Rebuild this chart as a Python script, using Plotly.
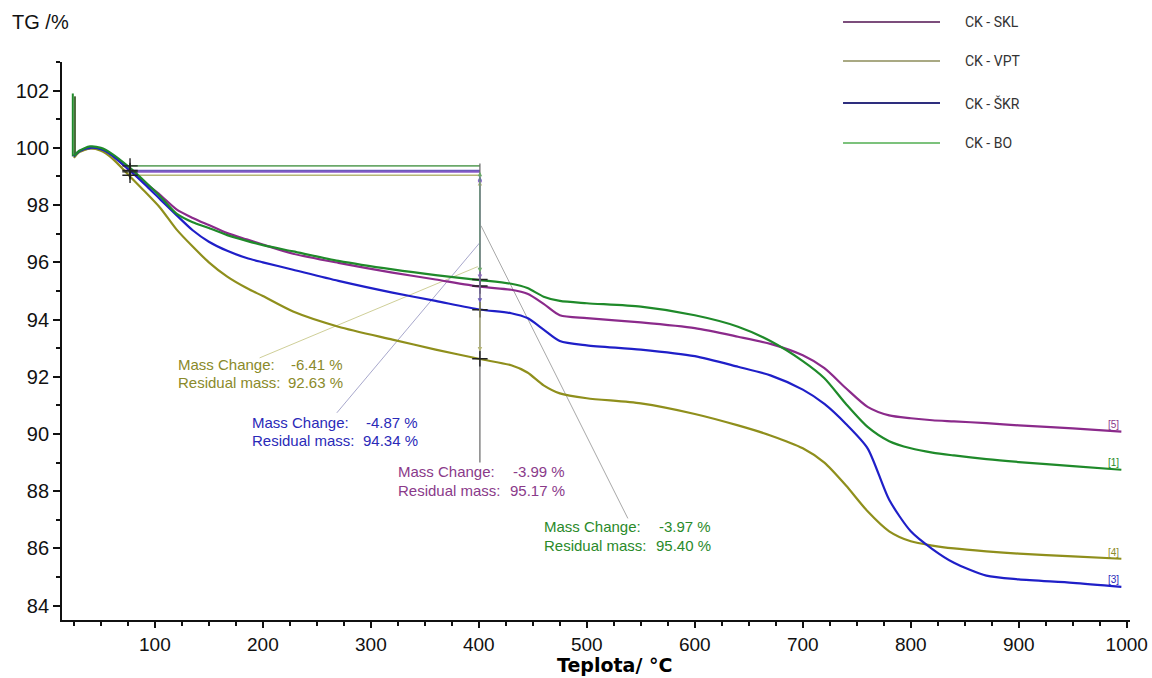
import plotly.graph_objects as go

# ---------------- data ----------------
temperature = [25, 30, 40, 50, 60, 77, 90, 105, 120, 135, 150, 167, 185, 200, 228, 270, 320, 360, 401,
               430, 445, 460, 475, 500, 550, 600, 640, 670, 700, 720, 740, 760, 780, 800, 820,
               840, 870, 900, 950, 995]

tg_skl = [99.7, 99.88, 99.98, 99.95, 99.75, 99.2, 98.8, 98.35, 97.85, 97.55, 97.3, 97.02, 96.8, 96.62, 96.3,
          95.98, 95.64, 95.4, 95.15, 95.04, 94.9, 94.55, 94.15, 94.05, 93.9, 93.7, 93.4, 93.15, 92.75,
          92.3, 91.6, 90.95, 90.65, 90.55, 90.48, 90.44, 90.38, 90.3, 90.2, 90.08]

tg_vpt = [99.65, 99.85, 99.98, 99.9, 99.65, 99.0, 98.5, 97.9, 97.15, 96.55, 96.0, 95.5, 95.1, 94.82, 94.28,
          93.75, 93.3, 92.95, 92.62, 92.4, 92.15, 91.7, 91.42, 91.25, 91.07, 90.7, 90.3, 89.95, 89.5,
          89.0, 88.2, 87.3, 86.6, 86.25, 86.1, 86.0, 85.9, 85.82, 85.72, 85.64]

tg_skr = [99.7, 99.88, 100.0, 99.95, 99.75, 99.2, 98.75, 98.2, 97.65, 97.12, 96.72, 96.4, 96.15, 96.0, 95.74,
          95.35, 94.94, 94.65, 94.35, 94.22, 94.05, 93.65, 93.25, 93.1, 92.95, 92.72, 92.35, 92.05, 91.55,
          91.05, 90.35, 89.5, 87.7, 86.6, 85.98, 85.5, 85.05, 84.92, 84.8, 84.66]

tg_bo = [99.72, 99.9, 100.05, 100.0, 99.8, 99.3, 98.85, 98.3, 97.7, 97.4, 97.2, 96.95, 96.75, 96.6, 96.38,
         96.05, 95.75, 95.55, 95.38, 95.25, 95.1, 94.8, 94.65, 94.57, 94.45, 94.15, 93.75, 93.25, 92.55,
         91.95, 91.05, 90.25, 89.75, 89.5, 89.35, 89.25, 89.12, 89.02, 88.88, 88.75]

series_names = ["CK - SKL", "CK - VPT", "CK - ŠKR", "CK - BO"]
series_values = [tg_skl, tg_vpt, tg_skr, tg_bo]
end_tags = ["[5]", "[4]", "[3]", "[1]"]

# initial balance spikes
spike_temperature = [24, 26]
spike_top = [101.9, 101.8]
spike_base = [99.7, 99.7]

# mass change evaluation (from ~77 °C to 400 °C)
eval_start_t = 77
eval_end_t = 401
mass_change = [-3.99, -6.41, -4.87, -3.97]
residual_mass = [95.17, 92.63, 94.34, 95.40]

x_ticks = [100, 200, 300, 400, 500, 600, 700, 800, 900, 1000]
y_ticks = [84, 86, 88, 90, 92, 94, 96, 98, 100, 102]

# ---------------- styles ----------------
curve_colors = ["#8b2a8b", "#8f8f1c", "#1f1fc8", "#1f8a2a"]
text_colors = ["#8a3a8a", "#8a8a2a", "#2a2ab8", "#2a8a2a"]
level_colors = ["#8a5ac8", "#b5b575", "#6a5ab8", "#6aa86a"]
legend_colors = ["#7c4e7c", "#a9a983", "#2e2e7e", "#7cc27c"]
FONT = "Liberation Sans, Arial, sans-serif"

fig = go.Figure()

# horizontal reference levels of the evaluation
for i in range(4):
    start_level = residual_mass[i] - mass_change[i]
    fig.add_trace(go.Scatter(x=[eval_start_t, eval_end_t], y=[start_level, start_level],
                             mode="lines", line=dict(color=level_colors[i], width=1.6),
                             showlegend=False, hoverinfo="skip"))

# vertical evaluation line
fig.add_trace(go.Scatter(x=[eval_end_t, eval_end_t], y=[99.45, 89.0], mode="lines",
                         line=dict(color="#666666", width=1.2), showlegend=False, hoverinfo="skip"))

# leader lines from evaluation line to the labels
leaders = [
    ([197, 399], [92.66, 95.85], "#cfcf98"),   # VPT
    ([268.5, 401], [90.74, 96.69], "#a8a8cc"),  # SKR
    ([402, 538], [97.28, 87.05], "#a8a8a8"),    # BO
]
for lx, ly, lc in leaders:
    fig.add_trace(go.Scatter(x=lx, y=ly, mode="lines", line=dict(color=lc, width=1),
                             showlegend=False, hoverinfo="skip"))

# spikes
for t, top, base, c in zip(spike_temperature, spike_top, spike_base, [curve_colors[3], "#4a6a3a"]):
    fig.add_trace(go.Scatter(x=[t, t], y=[top, base], mode="lines", line=dict(color=c, width=2),
                             showlegend=False, hoverinfo="skip"))

# curves
for i in range(4):
    fig.add_trace(go.Scatter(x=temperature, y=series_values[i], mode="lines", name=series_names[i],
                             line=dict(color=curve_colors[i], width=2.2, shape="spline", smoothing=0.7),
                             showlegend=False))

# cross markers
fig.add_trace(go.Scatter(
    x=[eval_start_t] * 4 + [eval_end_t] * 4,
    y=[r - m for r, m in zip(residual_mass, mass_change)] + residual_mass,
    mode="markers",
    marker=dict(symbol="cross-thin", size=11, line=dict(width=1.4, color="#222222")),
    showlegend=False, hoverinfo="skip"))

annotations = []

# double arrows on the evaluation line
for i in range(4):
    start_level = residual_mass[i] - mass_change[i]
    annotations.append(dict(x=eval_end_t, y=residual_mass[i] + 0.25, ax=eval_end_t, ay=start_level - 0.15,
                            xref="x", yref="y", axref="x", ayref="y", text="", showarrow=True,
                            arrowhead=2, arrowside="end+start", arrowsize=0.9, arrowwidth=1,
                            arrowcolor=level_colors[i]))

# mass change labels: (left x, right x, y line1, y line2) in data units
label_pos = [
    (323.1, 481.5, 88.68, 88.01),   # SKL
    (119.4, 275.9, 92.42, 91.79),   # VPT
    (188.0, 345.4, 90.39, 89.76),   # SKR
    (458.3, 616.7, 86.76, 86.09),   # BO
]
for i in range(4):
    xl, xr, y1, y2 = label_pos[i]
    for txt, xx, anchor, yy in [("Mass Change:", xl, "left", y1),
                                ("%.2f %%" % mass_change[i], xr, "right", y1),
                                ("Residual mass:", xl, "left", y2),
                                ("%.2f %%" % residual_mass[i], xr, "right", y2)]:
        annotations.append(dict(x=xx, y=yy, xref="x", yref="y", text=txt, showarrow=False,
                                xanchor=anchor, yanchor="middle",
                                font=dict(family=FONT, size=15, color=text_colors[i])))

# end tags
end_tag_y = [90.32, 85.85, 84.9, 89.0]
for i in range(4):
    annotations.append(dict(x=988, y=end_tag_y[i], xref="x", yref="y", text=end_tags[i],
                            showarrow=False, xanchor="center", yanchor="middle",
                            font=dict(family=FONT, size=10, color=text_colors[i])))

# axis titles
annotations.append(dict(x=-0.0487, y=1.0717, xref="paper", yref="paper", text="TG /%",
                        showarrow=False, xanchor="left", yanchor="middle",
                        font=dict(family=FONT, size=20, color="#111111")))
annotations.append(dict(x=0.517, y=-0.081, xref="paper", yref="paper", text="<b>Teplota/ °C</b>",
                        showarrow=False, xanchor="center", yanchor="middle",
                        font=dict(family="DejaVu Sans, sans-serif", size=19, color="#000000")))

# custom legend
legend_y = [1.0717, 1.0018, 0.9265, 0.8548]
shapes = []
for i in range(4):
    shapes.append(dict(type="line", xref="paper", yref="paper", x0=0.7313, x1=0.8221,
                       y0=legend_y[i], y1=legend_y[i], line=dict(color=legend_colors[i], width=2.2)))
    annotations.append(dict(x=0.8436, y=legend_y[i], xref="paper", yref="paper", text=series_names[i],
                            showarrow=False, xanchor="left", yanchor="middle",
                            font=dict(family="Roboto, sans-serif", size=14, color="#333333")))

fig.update_layout(
    width=1152, height=678,
    margin=dict(l=62, r=22, t=62, b=58, autoexpand=False),
    paper_bgcolor="white", plot_bgcolor="white",
    annotations=annotations, shapes=shapes,
    showlegend=False,
    xaxis=dict(range=[14, 1003], tickvals=x_ticks, ticks="outside", ticklen=6, tickwidth=1.5,
               tickcolor="#111111", showline=True, linecolor="#111111", linewidth=1.8,
               showgrid=False, zeroline=False, automargin=False,
               tickfont=dict(family=FONT, size=19, color="#111111"),
               minor=dict(dtick=25, tick0=0, ticks="outside", ticklen=4, tickcolor="#111111", showgrid=False)),
    yaxis=dict(range=[83.5, 103.0], tickvals=y_ticks, ticks="outside", ticklen=7, tickwidth=1.5,
               tickcolor="#111111", showline=True, linecolor="#111111", linewidth=1.8,
               showgrid=False, zeroline=False, automargin=False,
               tickfont=dict(family=FONT, size=20, color="#111111"),
               minor=dict(dtick=1, tick0=0, ticks="outside", ticklen=4, tickcolor="#111111", showgrid=False)),
)

# remove the default page margin so the figure fills the window exactly
fig.write_html("out.html", config={"displayModeBar": False},
               post_script="document.body.style.margin='0';document.body.style.overflow='hidden';")
